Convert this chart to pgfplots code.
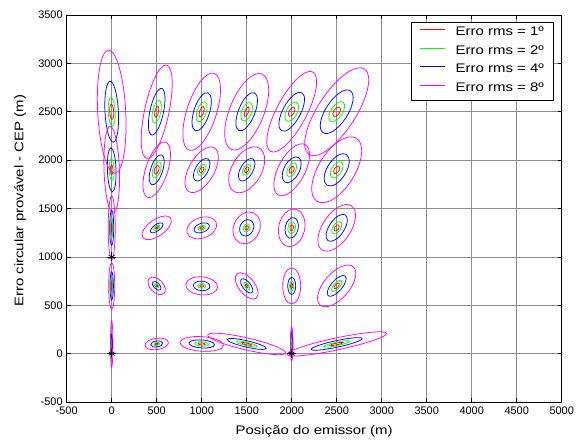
\documentclass[border=0pt]{standalone}
\usepackage{fontspec}
\setmainfont{Liberation Sans}
\newfontfamily\wfont[FakeStretch=1.2]{Liberation Sans}
\usepackage{pgfplots}
\usepackage{pgfplotstable}
\pgfplotsset{compat=1.18}

% centre (x,y), tilt t (deg, on the page), semi-axes (bp) for rms 1,2,4,8 deg
\pgfplotstableread{
x y t a1 b1 a2 b2 a4 b4 a8 b8
0 2500 93 7.5 2 14.2 3.5 30.5 6.7 61.7 14
500 2500 78 5.6 1.9 11.5 4.1 23.8 6.8 47.7 12.2
1000 2500 72 5.5 2.2 10.4 4.6 20 7.8 40.4 14.8
1500 2500 68 5 1.8 9.7 4.9 20.4 8.2 40.7 17.1
2000 2500 62 5.1 2.6 10.5 5.5 21.6 8.9 45 15
2500 2500 57 5.5 3 11.5 5.8 25 11 51 19
0 1900 92 5 1.3 10.8 2.5 22 4.3 43.5 7.7
500 1900 72 4.5 2.2 8.3 3.9 15.7 6 29 11
1000 1900 60 3.2 1.8 6.2 3.5 12.5 6.3 25.3 12.6
1500 1900 60 3.2 1.8 6.2 3.5 12.5 6.3 25.1 14.9
2000 1900 62 3.8 2.2 7.3 4 14.1 7.7 28.6 13.3
2500 1900 58 4.3 2.5 9 5 18.2 9.4 37.2 18.1
0 1300 90 5 0.6 10 1.2 17.5 2 32 3.5
500 1300 35 1.9 0.9 3.7 1.7 7.4 3.2 17 8.2
1000 1300 20 2 1.2 4 2.3 8 4.5 15.5 10.2
1500 1300 65 2.2 1.6 4.3 3.2 8.5 6.8 16.5 13
2000 1300 78 2.9 1.8 5.9 3.7 10.4 6.5 18.9 13
2500 1300 56 3.5 2 7 3.8 15.5 7.5 26.5 14
0 700 90 4.5 0.6 9 1 14 1.7 23.3 3
500 700 -45 1.3 0.8 2.7 1.5 5.5 3 10.5 6.5
1000 700 -5 2 1.2 4.2 2.4 8.3 4.8 16 9
1500 700 -52 2 1 4.2 2 8.5 4 15.5 8
2000 700 90 2.5 1.2 5 2.2 8.5 4 18 9
2500 700 49 3.5 1.6 7 3 13 5.5 25.3 12.7
0 100 90 2.5 0.3 5 0.5 9.5 0.8 23.3 1.2
500 100 8 1.5 0.8 3 1.6 6 3 11.8 5.7
1000 100 -4 3.5 1.1 7 2.2 12.8 4 21.8 7.3
1500 100 -13 5.3 0.9 10.5 1.7 20 3.2 40 6
2000 100 90 3 0.4 6 0.6 11.7 1 17 1.3
2500 100 12 6.5 0.9 13.3 1.7 26 3.3 51 6
}\ells

\pgfplotstableread{
x y
0 0
0 1000
2000 0
}\sensors

\pgfdeclareplotmark{ell}{%
  \pgfmathsetmacro\etb{\et+90}%
  \pgfpathellipse{\pgfpointorigin}{\pgfpointpolar{\et}{\ea bp}}{\pgfpointpolar{\etb}{\eb bp}}%
  \pgfusepathqstroke}

\definecolor{mred}{rgb}{1,0,0}
\definecolor{mgreen}{rgb}{0,1,0}
\definecolor{mblue}{rgb}{0,0,1}
\definecolor{mmag}{rgb}{1,0,1}

\pgfplotsset{
  ellplot/.style n args={3}{forget plot, only marks, scatter, mark=ell,
    line width=0.75bp,
    scatter/use mapped color={draw=#1, fill=none},
    visualization depends on={\thisrow{#2}\as\ea},
    visualization depends on={\thisrow{#3}\as\eb},
    visualization depends on={\thisrow{t}\as\et}},
}

\begin{document}
\begin{tikzpicture}
\begin{axis}[name=ax, scale only axis, width=495bp, height=387bp,
  xmin=-500, xmax=5000, ymin=-500, ymax=3500,
  xtick={-500,0,...,5000}, ytick={-500,0,...,3500},
  grid=major, major grid style={color=black!45, line width=0.6bp},
  axis line style={line width=0.6bp},
  tick align=inside, major tick length=4bp, tick style={black, line width=0.6bp},
  ticklabel style={font=\fontsize{11}{13}\selectfont},
  xticklabel style={yshift=-1.5bp},
  yticklabel style={xshift=-0.5bp},
  /pgf/number format/assume math mode=true, /pgf/number format/1000 sep={},
  xlabel={Posição do emissor (m)}, ylabel={Erro circular provável - CEP (m)},
  label style={font=\wfont\fontsize{12.5}{15}\selectfont},
  xlabel style={at={(axis description cs:0.5,-0.075)}, anchor=center},
  ylabel style={at={(axis description cs:-0.094,0.52)}, anchor=center},
  legend style={at={(0.9824,0.9827)}, anchor=north east, draw=black,
    font=\wfont\fontsize{12.5}{15}\selectfont, cells={anchor=west},
    inner xsep=9bp, inner ysep=2bp, column sep=9.7bp,
    nodes={inner sep=0bp, text height=12bp, text depth=6.5bp}},
  legend image code/.code={\draw[#1, line width=1.1bp] (0bp,3.5bp) -- (25bp,3.5bp);},
]
\addplot[ellplot={mred}{a1}{b1}] table[x=x,y=y] {\ells};
\addplot[ellplot={mgreen}{a2}{b2}] table[x=x,y=y] {\ells};
\addplot[ellplot={mblue}{a4}{b4}] table[x=x,y=y] {\ells};
\addplot[ellplot={mmag}{a8}{b8}] table[x=x,y=y] {\ells};
\addplot[forget plot, only marks, mark=asterisk, mark size=3.5bp, black, line width=0.6bp] table[x=x,y=y] {\sensors};
\addplot[forget plot, only marks, mark=+, mark size=4.5bp, black, line width=0.6bp] table[x=x,y=y] {\sensors};
\addlegendimage{color=mred}
\addlegendentry{Erro rms = 1º}
\addlegendimage{color=mgreen}
\addlegendentry{Erro rms = 2º}
\addlegendimage{color=mblue}
\addlegendentry{Erro rms = 4º}
\addlegendimage{color=mmag}
\addlegendentry{Erro rms = 8º}
\end{axis}
\pgfresetboundingbox
\path[use as bounding box] ([shift={(-66.7bp,-41bp)}]ax.south west) rectangle ([shift={(22.3bp,15bp)}]ax.north east);
\end{tikzpicture}
\end{document}
